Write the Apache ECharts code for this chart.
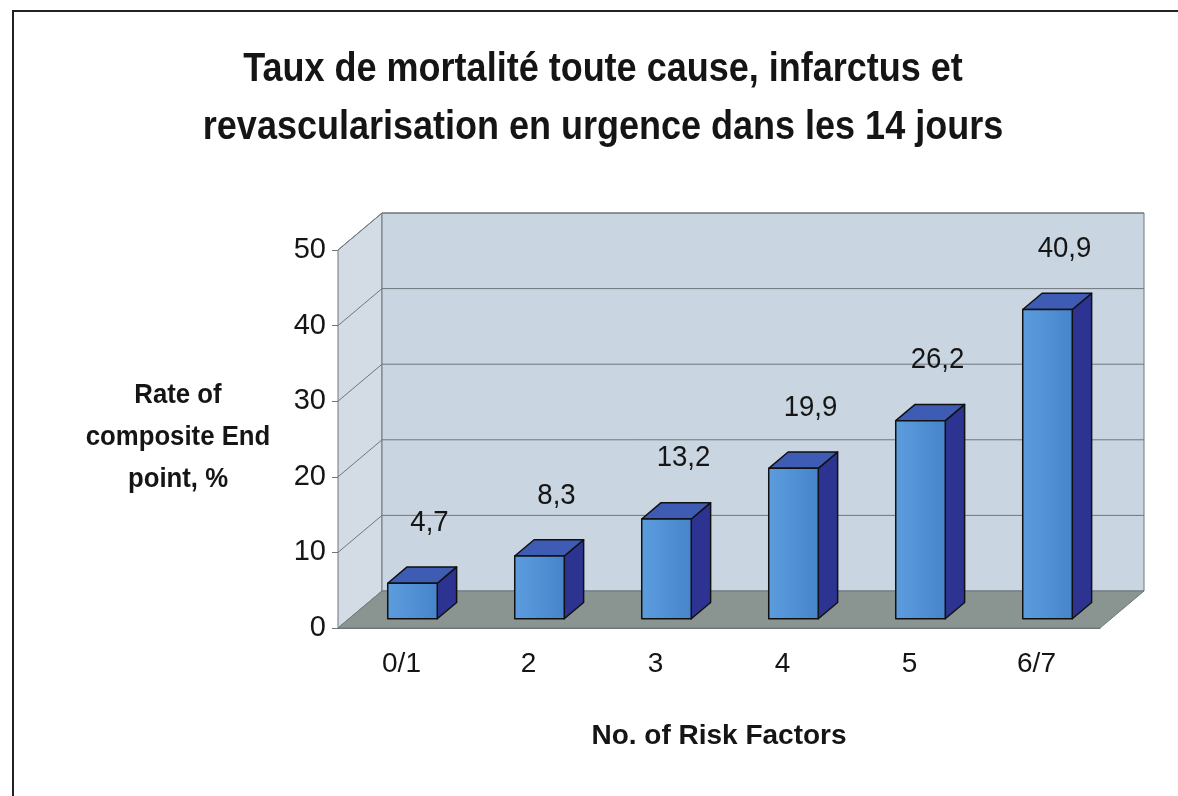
<!DOCTYPE html>
<html>
<head>
<meta charset="utf-8">
<script src="https://cdn.jsdelivr.net/npm/echarts@6/dist/echarts.min.js"></script>
<style>
html, body { margin: 0; padding: 0; background: #fff; }
#main { width: 1178px; height: 796px; }
</style>
</head>
<body>
<div id="main"></div>
<script>
var categories = ['0/1', '2', '3', '4', '5', '6/7'];
var rates = [4.7, 8.3, 13.2, 19.9, 26.2, 40.9];
var rateLabels = ['4,7', '8,3', '13,2', '19,9', '26,2', '40,9'];
var gridValues = [10, 20, 30, 40, 50];

// profondeur du decor 3D, en px
var DX = 44, DY = -37;
var FONT = '"Liberation Sans", Arial, sans-serif';
var EDGE = '#6e777d';

var chart = echarts.init(document.getElementById('main'));

// murs, sol et quadrillage du fond
function renderWalls(params, api) {
	var cs = params.coordSys;
	var x0 = cs.x, x1 = cs.x + cs.width, yt = cs.y, yb = cs.y + cs.height;
	var children = [];
	children.push({ type: 'polygon', shape: { points: [[x0, yb], [x0, yt], [x0 + DX, yt + DY], [x0 + DX, yb + DY]] },
		style: { fill: '#d3dce5', stroke: EDGE, lineWidth: 1 } });
	children.push({ type: 'rect', shape: { x: x0 + DX, y: yt + DY, width: cs.width, height: cs.height },
		style: { fill: '#c9d5e0', stroke: EDGE, lineWidth: 1 } });
	children.push({ type: 'polygon', shape: { points: [[x0, yb], [x1, yb], [x1 + DX, yb + DY], [x0 + DX, yb + DY]] },
		style: { fill: '#8a9591', stroke: EDGE, lineWidth: 1 } });
	gridValues.forEach(function (v) {
		var y = api.coord([0, v])[1];
		children.push({ type: 'line', shape: { x1: x0, y1: y, x2: x0 + DX, y2: y + DY }, style: { stroke: EDGE, lineWidth: 1 } });
		children.push({ type: 'line', shape: { x1: x0 + DX, y1: y + DY, x2: x1 + DX, y2: y + DY }, style: { stroke: EDGE, lineWidth: 1 } });
	});
	return { type: 'group', children: children };
}

// barre 3D : face avant, dessus, cote
function renderBar(params, api) {
	var idx = api.value(0), v = api.value(1);
	var top = api.coord([idx, v]);
	var base = api.coord([idx, 0]);
	var w = api.size([1, 0])[0] * 0.39;
	var ox = DX * 0.25, oy = DY * 0.25;
	var bx = DX * 0.44, by = DY * 0.44;
	var l = top[0] - w / 2 + ox, r = top[0] + w / 2 + ox;
	var t = top[1] + oy, b = base[1] + oy;
	var line = { stroke: '#111', lineWidth: 1.5, lineJoin: 'round' };
	return {
		type: 'group',
		children: [{
			type: 'polygon',
			shape: { points: [[r, b], [r, t], [r + bx, t + by], [r + bx, b + by]] },
			style: Object.assign({ fill: '#2c3391' }, line)
		}, {
			type: 'polygon',
			shape: { points: [[l, t], [r, t], [r + bx, t + by], [l + bx, t + by]] },
			style: Object.assign({ fill: '#3f5cb4' }, line)
		}, {
			type: 'rect',
			shape: { x: l, y: t, width: r - l, height: b - t },
			style: Object.assign({
				fill: new echarts.graphic.LinearGradient(0, 0, 1, 0, [
					{ offset: 0, color: '#5c9dde' }, { offset: 1, color: '#4684cb' }
				])
			}, line)
		}, {
			type: 'text',
			x: top[0] + 28, y: top[1] - 70,
			scaleX: 0.92,
			style: {
				text: rateLabels[params.dataIndex],
				x: 0, y: 0,
				align: 'center', verticalAlign: 'middle',
				font: '30px ' + FONT, fill: '#151515'
			}
		}]
	};
}

var option = {
	backgroundColor: '#fff',
	animation: false,
	graphic: [{
		type: 'rect', silent: true,
		shape: { x: 13, y: 11, width: 1200, height: 820 },
		style: { fill: 'none', stroke: '#222', lineWidth: 2 }
	}, {
		type: 'text', silent: true,
		x: 603, y: 99, scaleX: 0.9,
		style: {
			text: 'Taux de mortalité toute cause, infarctus et\nrevascularisation en urgence dans les 14 jours',
			x: 0, y: 0, align: 'center', verticalAlign: 'middle',
			font: 'bold 40px ' + FONT, lineHeight: 58, fill: '#151515'
		}
	}, {
		type: 'text', silent: true,
		x: 178, y: 437, scaleX: 0.92,
		style: {
			text: 'Rate of\ncomposite End\npoint, %',
			x: 0, y: 0, align: 'center', verticalAlign: 'middle',
			font: 'bold 28px ' + FONT, lineHeight: 42, fill: '#151515'
		}
	}],
	grid: { left: 338, right: 78, top: 250, bottom: 168 },
	xAxis: {
		type: 'category',
		data: categories,
		name: 'No. of Risk Factors',
		nameLocation: 'middle',
		nameGap: 94,
		nameTextStyle: { fontFamily: FONT, fontSize: 28, fontWeight: 'bold', color: '#151515' },
		axisLine: { lineStyle: { color: EDGE, width: 1 } },
		axisTick: { length: 8, lineStyle: { color: EDGE } },
		axisLabel: { fontFamily: FONT, fontSize: 28, color: '#151515', margin: 22 }
	},
	yAxis: {
		type: 'value',
		min: 0, max: 50, interval: 10,
		axisLine: { show: true, lineStyle: { color: EDGE, width: 1 } },
		axisTick: { show: true, length: 6, lineStyle: { color: EDGE } },
		axisLabel: { fontFamily: FONT, fontSize: 29, color: '#151515', margin: 12 },
		splitLine: { show: false }
	},
	series: [{
		type: 'custom',
		renderItem: renderWalls,
		data: [[0, 0]],
		silent: true,
		z: 1
	}, {
		type: 'custom',
		renderItem: renderBar,
		data: rates.map(function (v, i) { return [i, v]; }),
		z: 3
	}]
};

chart.setOption(option);
</script>
</body>
</html>
